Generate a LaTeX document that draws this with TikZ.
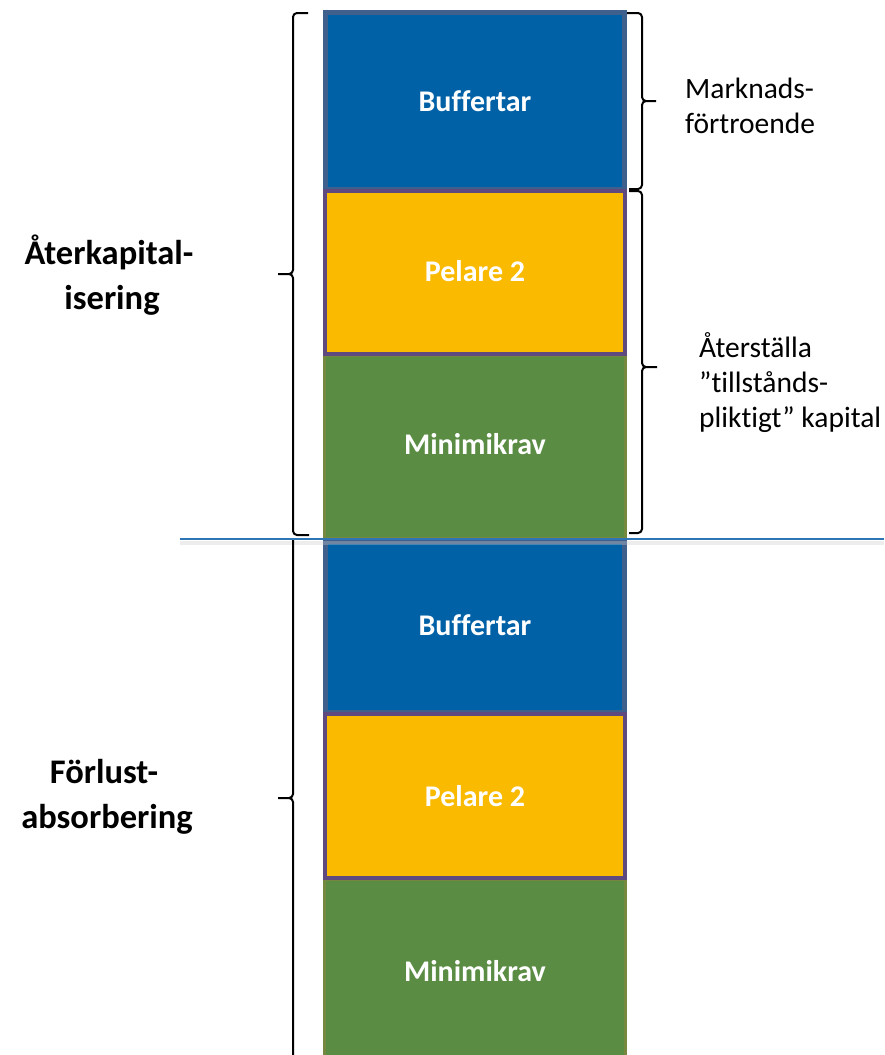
\documentclass[tikz,border=0pt]{standalone}
\usepackage{fontspec}
\setmainfont{Carlito}[Ligatures={NoCommon}]
\definecolor{bfill}{HTML}{0061A6}
\definecolor{bline}{HTML}{3F5F8C}
\definecolor{yfill}{HTML}{F9BA00}
\definecolor{yline}{HTML}{5E4A7E}
\definecolor{gfill}{HTML}{5A8C44}
\definecolor{gline}{HTML}{76883F}
\definecolor{hline}{HTML}{2E75B6}
\tikzset{
  bluebox/.style={fill=bfill,draw=bline,line width=5pt},
  yellowbox/.style={fill=yfill,draw=yline,line width=4pt},
  greenbox/.style={fill=gfill,draw=gline,line width=3pt},
  blocklabel/.style={text=white,font=\fontsize{30}{36}\selectfont\bfseries,inner sep=0pt,anchor=base},
  sidelabel/.style={font=\fontsize{34.5}{41}\selectfont\bfseries,inner sep=0pt,anchor=base},
  notelabel/.style={font=\fontsize{29.5}{35}\selectfont,inner sep=0pt,anchor=base west},
  bracepath/.style={draw=black,line width=2pt,line join=round},
}
\begin{document}
\begin{tikzpicture}[x=1pt,y=-1pt]
\useasboundingbox (0,0) rectangle (884,1055);
\clip (0,0) rectangle (884,1055);
% top column
\path[bluebox] (325.5,12.5) rectangle (624.5,189);
\path[greenbox] (324.5,355) rectangle (625.5,538);
\path[yellowbox] (325,191) rectangle (625,354);
% bottom column
\path[bluebox] (325.5,541) rectangle (624.5,712);
\path[greenbox] (324.5,879) rectangle (625.5,1070);
\path[yellowbox] (325,714) rectangle (625,878);
% block labels
\node[blocklabel] (b1) at (475,111) {Buffertar};
\node[blocklabel] (p1) at (475,281) {Pelare 2};
\node[blocklabel] (m1) at (475,454) {Minimikrav};
\node[blocklabel] (b2) at (475,635) {Buffertar};
\node[blocklabel] (p2) at (475,806) {Pelare 2};
\node[blocklabel] (m2) at (475,981) {Minimikrav};
% horizontal separator with shadow
\draw[black!20,line width=4pt,opacity=0.35] (180,543) -- (884,543);
\draw[hline,line width=2pt] (180,539) -- (884,539);
% left braces
\draw[bracepath] (308,13) -- (297,13) to[out=180,in=90] (293,17) -- (293,270)
  to[out=-90,in=0] (289,274) -- (278,274)
  (289,274) to[out=0,in=90] (293,278) -- (293,531) to[out=-90,in=180] (297,535) -- (309,535);
\draw[bracepath] (293,540) -- (293,794)
  to[out=-90,in=0] (289,798) -- (278,798)
  (289,798) to[out=0,in=90] (293,802) -- (293,1070);
% right braces
\draw[bracepath] (627,13) -- (638,13) to[out=0,in=90] (642,17) -- (642,97)
  to[out=-90,in=180] (646,101) -- (656,101)
  (646,101) to[out=180,in=90] (642,105) -- (642,185) to[out=-90,in=0] (638,189) -- (629,189);
\draw[bracepath] (629,191) -- (638,191) to[out=0,in=90] (642,195) -- (642,363)
  to[out=-90,in=180] (646,367) -- (657,367)
  (646,367) to[out=180,in=90] (642,371) -- (642,529) to[out=-90,in=0] (638,533) -- (629,533);
% left labels
\node[sidelabel] (a1) at (109,264) {Återkapital-};
\node[sidelabel] (a2) at (112,309) {isering};
\node[sidelabel] (f1) at (104,783) {Förlust-};
\node[sidelabel] (f2) at (107,828) {absorbering};
% right notes
\node[notelabel] (n1) at (685,98) {Marknads-};
\node[notelabel] (n2) at (685,133) {förtroende};
\node[notelabel] (r1) at (699,357) {Återställa};
\node[notelabel] (r2) at (699,392) {”tillstånds-};
\node[notelabel] (r3) at (699,427) {pliktigt” kapital};
\end{tikzpicture}
\end{document}
